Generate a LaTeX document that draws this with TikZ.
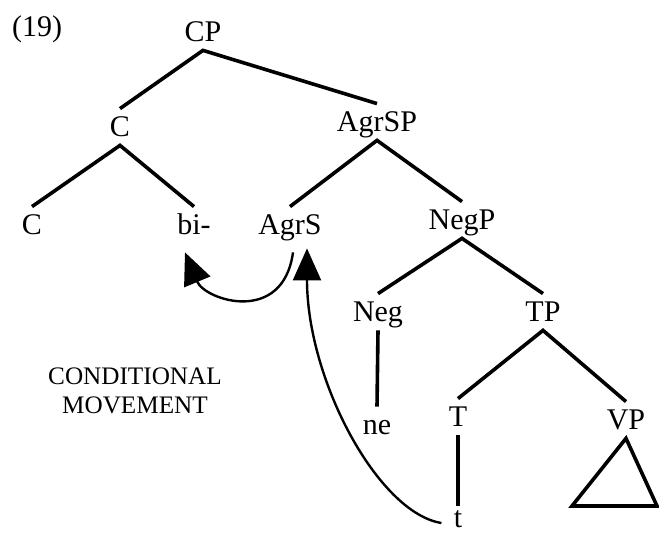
\documentclass[tikz,border=0pt]{standalone}
\usepackage{fontspec}
\setmainfont{Liberation Serif}
\usetikzlibrary{arrows.meta}

\begin{document}
\begin{tikzpicture}[
		x=0.5pt, y=-0.5pt,
		lbl/.style={font=\fontsize{15}{18}\selectfont, text height=10pt, text depth=0pt, inner sep=4pt, anchor=base},
		branch/.style={line width=1.8pt},
		movearrow/.style={line width=1.2pt, -{Triangle[length=16pt, width=14pt]}},
	]
		\useasboundingbox (0,0) rectangle (659,533);
		\node (ex) [lbl] at (37,37) {(19)};
		% tree labels
		\node (cp) [lbl] at (203,42) {CP};
		\node (c) [lbl] at (120,137) {C};
		\node (agrsp) [lbl] at (377,132) {AgrSP};
		\node (chead) [lbl] at (32,235) {C};
		\node (bi) [lbl] at (194,235) {bi-};
		\node (agrs) [lbl] at (290,235) {AgrS};
		\node (negp) [lbl] at (462,230) {NegP};
		\node (neg) [lbl] at (378,322) {Neg};
		\node (tp) [lbl] at (543,322) {TP};
		\node (ne) [lbl] at (377,435) {ne};
		\node (t) [lbl] at (458,427) {T};
		\node (vp) [lbl] at (626,430) {VP};
		\node (trace) [lbl, inner ysep=1pt] at (458,528) {t};
		\coordinate (vpl) at (572,506);
		\coordinate (vpr) at (657,506);
		\node (cond) [font=\fontsize{12.6}{14.5}\selectfont, align=center, inner sep=0pt] at (135,391) {CONDITIONAL\\MOVEMENT};
		% branches
		\draw[branch] (c.north) -- (cp.south) -- (agrsp.north);
		\draw[branch] (chead.north) -- (c.south) -- (bi.north);
		\draw[branch] (agrs.north) -- (agrsp.south) -- (negp.north);
		\draw[branch] (neg.north) -- (negp.south) -- (tp.north);
		\draw[branch] (neg.south) -- (ne.north);
		\draw[branch] (t.north) -- (tp.south) -- (vp.north);
		\draw[branch] (t.south) -- (trace.north);
		\draw[branch] (vp.south) -- (vpl) -- (vpr) -- cycle;
		% movement arrows
		\draw[movearrow] ([shift={(3,9)}]agrs.south) .. controls +(-10,73) and +(20,48) .. ([shift={(-9,9)}]bi.south);
		\draw[movearrow] ([shift={(-4,5)}]trace.west) .. controls +(-63,-10) and +(0,132) .. ([shift={(17,5)}]agrs.south);
	\end{tikzpicture}
\end{document}
